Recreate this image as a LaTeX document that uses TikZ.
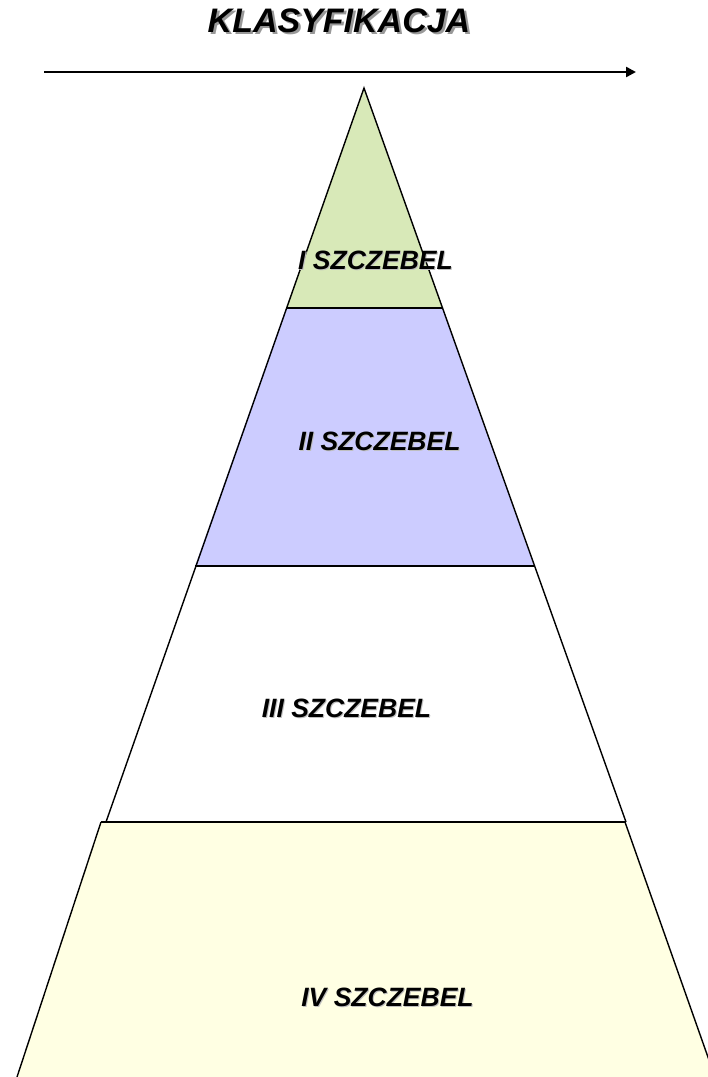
\documentclass[tikz,border=0pt]{standalone}
\usepackage{fontspec}
\setmainfont{Liberation Sans}
\usetikzlibrary{arrows.meta}
\definecolor{lvlA}{HTML}{D8E9B8}
\definecolor{lvlB}{HTML}{CCCCFF}
\definecolor{lvlD}{HTML}{FFFFE3}
\newcommand{\shadowtxt}[3]{\rlap{\hspace{#1}\raisebox{-#1}{\color{black!#2}#3}}#3}
\tikzset{
  edge/.style={line width=1.4pt, black},
  lbl/.style={font=\fontsize{26.5}{29}\selectfont\bfseries\itshape, inner sep=0pt},
  ttl/.style={font=\fontsize{34}{38}\selectfont\bfseries\itshape, inner sep=0pt},
}
\begin{document}
\begin{tikzpicture}[x=1pt,y=-1pt]
\useasboundingbox (0,0) rectangle (708,1077);
% level fills
\fill[lvlA] (364,88) -- (443,308) -- (286,308) -- cycle;
\fill[lvlB] (286,308) -- (443,308) -- (534,566) -- (195,566) -- cycle;
\fill[white] (195,566) -- (534,566) -- (626,822) -- (106,822) -- cycle;
\fill[lvlD] (101,822) -- (625,822) -- (715,1077) -- (17,1077) -- cycle;
% outline
\draw[edge] (17,1077) -- (101,822);
\draw[edge] (106,822) -- (364,88) -- (626,822);
\draw[edge] (625,822) -- (715,1077);
\draw[edge] (286,308) -- (443,308);
\draw[edge] (195,566) -- (534,566);
\draw[line width=2pt] (101,822) -- (625,822);
% arrow
\coordinate (aS) at (44,72);
\coordinate (aE) at (636,72);
\draw[line width=2.4pt, -{Triangle[length=10pt,width=10pt]}] (aS) -- (aE);
% title
\node[ttl] (title) at (339,22) {\shadowtxt{2.5pt}{40}{KLASYFIKACJA}};
% labels
\node[lbl] (l1) at (375.5,260.5) {\shadowtxt{1pt}{25}{I SZCZEBEL}};
\node[lbl] (l2) at (379.5,441.5) {\shadowtxt{1pt}{25}{II SZCZEBEL}};
\node[lbl] (l3) at (346.5,708.5) {\shadowtxt{1pt}{25}{III SZCZEBEL}};
\node[lbl] (l4) at (387.5,997.5) {\shadowtxt{1pt}{25}{IV SZCZEBEL}};
\end{tikzpicture}
\end{document}
